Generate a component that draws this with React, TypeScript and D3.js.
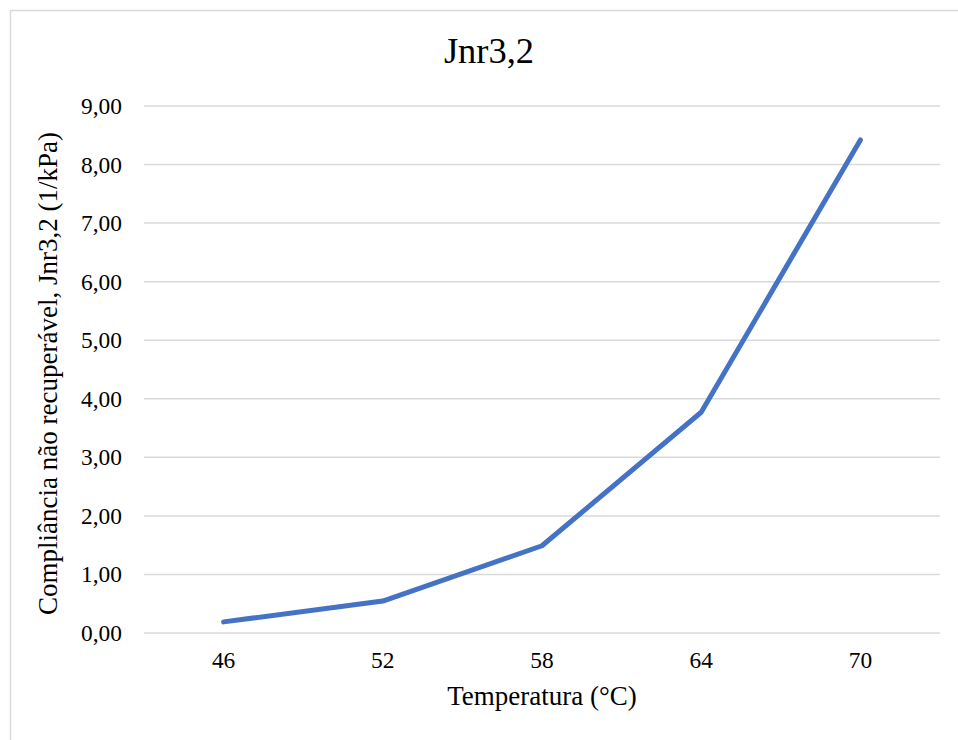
import React from 'react';
import * as d3 from 'd3';

const temperatures = ['46', '52', '58', '64', '70'];
const jnrValues = [0.19, 0.545, 1.49, 3.77, 8.42];
const yTicks = [0, 1, 2, 3, 4, 5, 6, 7, 8, 9];

const W = 958;
const H = 740;
const margin = { top: 106, right: 18, bottom: 107, left: 144 };
const FONT = '"Liberation Serif", "Times New Roman", serif';

export default function App() {
  const plotW = W - margin.left - margin.right;
  const plotH = H - margin.top - margin.bottom;

  const x = d3.scaleBand().domain(temperatures).range([0, plotW]);
  const y = d3.scaleLinear().domain([0, 9]).range([plotH, 0]);

  const line = d3
    .line<number>()
    .x((_, i) => x(temperatures[i])! + x.bandwidth() / 2)
    .y(d => y(d));

  const fmt = (v: number) => v.toFixed(2).replace('.', ',');

  return (
    <svg
      width={W}
      height={H}
      style={{ position: 'absolute', left: 0, top: 0, background: '#fff' }}
      fontFamily={FONT}
    >
      {/* chart border, cropped at right and bottom */}
      <rect x={10.5} y={10.5} width={W + 20} height={H + 20} fill="#fff" stroke="#d9d9d9" strokeWidth={1.5} />

      <text x={489} y={63} textAnchor="middle" fontSize={36.5} fill="#000">
        Jnr3,2
      </text>

      <g transform={`translate(${margin.left},${margin.top})`}>
        {yTicks.map(t => (
          <g key={t}>
            <line x1={0} x2={plotW} y1={y(t)} y2={y(t)} stroke="#d9d9d9" strokeWidth={1.5} />
            <text x={-22} y={y(t) + 8} textAnchor="end" fontSize={23.4} fill="#000">
              {fmt(t)}
            </text>
          </g>
        ))}

        {temperatures.map(t => (
          <text
            key={t}
            x={x(t)! + x.bandwidth() / 2}
            y={plotH + 35}
            textAnchor="middle"
            fontSize={23.4}
            fill="#000"
          >
            {t}
          </text>
        ))}

        <path
          d={line(jnrValues) || ''}
          fill="none"
          stroke="#4472c4"
          strokeWidth={5}
          strokeLinecap="round"
          strokeLinejoin="round"
        />

        <text x={plotW / 2} y={plotH + 72} textAnchor="middle" fontSize={27} fill="#000">
          Temperatura (°C)
        </text>
      </g>

      <text
        transform={`translate(${57},${margin.top + plotH / 2 + 4}) rotate(-90)`}
        textAnchor="middle"
        fontSize={27}
        fill="#000"
      >
        Compliância não recuperável, Jnr3,2 (1/kPa)
      </text>
    </svg>
  );
}
